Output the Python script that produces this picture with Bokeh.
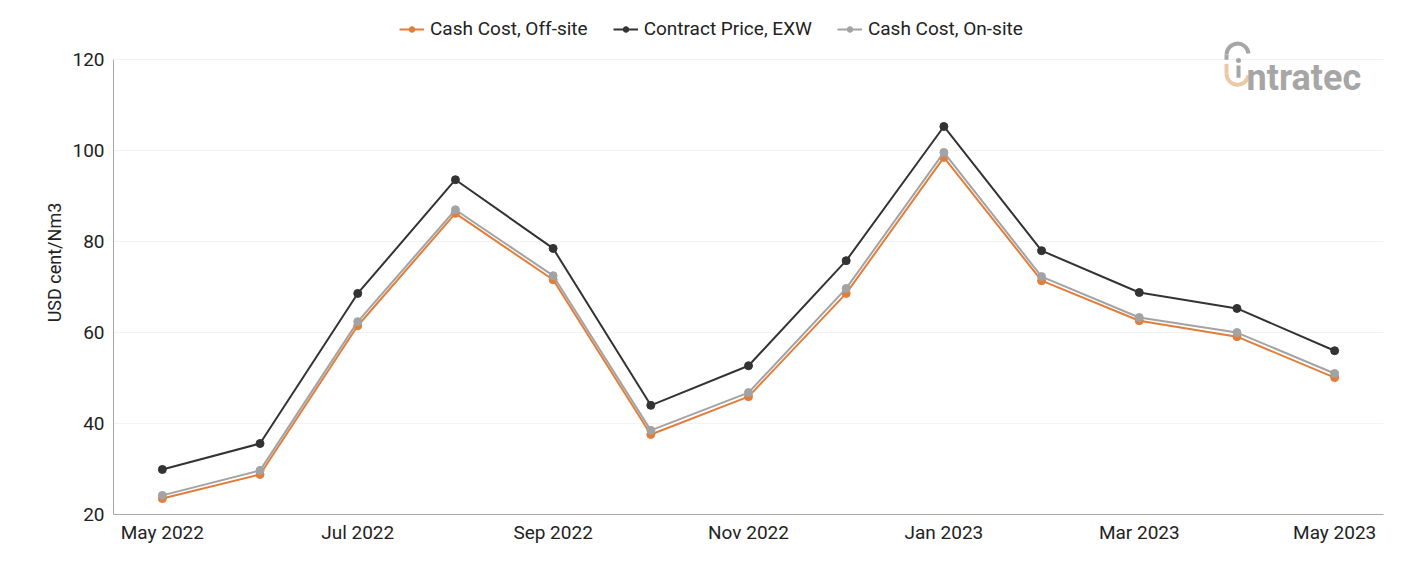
from bokeh.plotting import figure
from bokeh.models import (Range1d, FixedTicker, Legend, LegendItem, Label,
                          CustomJSTickFormatter)
from bokeh.embed import file_html
from bokeh.resources import INLINE

months = ["May 2022", "Jun 2022", "Jul 2022", "Aug 2022", "Sep 2022", "Oct 2022",
          "Nov 2022", "Dec 2022", "Jan 2023", "Feb 2023", "Mar 2023", "Apr 2023",
          "May 2023"]
cash_cost_offsite = [23.5, 28.8, 61.5, 86.2, 71.6, 37.6, 45.9, 68.6, 98.5, 71.4, 62.6, 59.1, 50.1]
contract_price_exw = [29.9, 35.6, 68.6, 93.6, 78.5, 44.0, 52.7, 75.8, 105.3, 78.0, 68.8, 65.3, 56.0]
cash_cost_onsite = [24.2, 29.7, 62.4, 87.0, 72.5, 38.5, 46.8, 69.7, 99.6, 72.3, 63.3, 60.0, 51.0]
y_ticks = [20, 40, 60, 80, 100, 120]

FONT = "Roboto"
x = list(range(len(months)))

# the frame reaches above the 120 line so the legend and logo share it
p = figure(width=1401, height=561, output_backend="svg", toolbar_location=None,
           x_range=Range1d(-0.5, len(months) - 0.5), y_range=Range1d(20, 130.8))
p.min_border_left = 113
p.min_border_right = 18
p.min_border_bottom = 47
p.min_border_top = 10
p.outline_line_color = None
p.background_fill_color = "white"
p.border_fill_color = "white"

# axes
p.xaxis.ticker = FixedTicker(ticks=x[::2])
p.xaxis.formatter = CustomJSTickFormatter(args=dict(labels=months),
                                          code="return labels[Math.round(tick)];")
p.yaxis.ticker = FixedTicker(ticks=y_ticks)
p.yaxis.bounds = (20, 120)
for ax in (p.xaxis, p.yaxis):
    ax.axis_line_color = "#a8a8a8"
    ax.axis_line_width = 1
    ax.major_tick_line_color = None
    ax.minor_tick_line_color = None
    ax.major_label_text_font = FONT
    ax.major_label_text_font_size = "19px"
    ax.major_label_text_color = "#222222"
p.xaxis.major_label_standoff = 0
p.yaxis.major_label_standoff = 3
p.yaxis.axis_label = "USD cent/Nm3"
p.yaxis.axis_label_text_font = FONT
p.yaxis.axis_label_text_font_size = "18px"
p.yaxis.axis_label_text_font_style = "normal"
p.yaxis.axis_label_text_color = "#222222"
p.yaxis.axis_label_standoff = 4

p.xgrid.grid_line_color = None
p.ygrid.grid_line_color = "#f3f3f3"
p.ygrid.ticker = FixedTicker(ticks=y_ticks)

series = [
    ("Cash Cost, Off-site", cash_cost_offsite, "#e27d3a"),
    ("Contract Price, EXW", contract_price_exw, "#333333"),
    ("Cash Cost, On-site", cash_cost_onsite, "#a3a3a3"),
]
items = []
for name, vals, color in series:
    ln = p.line(x, vals, line_color=color, line_width=2)
    mk = p.scatter(x, vals, size=8, fill_color=color, line_color=color)
    items.append(LegendItem(label=name, renderers=[ln, mk]))

legend = Legend(items=items, orientation="horizontal", location=(286, 474),
                label_text_font=FONT, label_text_font_size="19px",
                label_text_color="#222222", glyph_width=25, glyph_height=14,
                spacing=25, label_standoff=6, padding=4, margin=0,
                border_line_color=None, background_fill_alpha=0)
p.add_layout(legend, "center")

# company logo in the top-right corner
GRAY, BEIGE = "#a6a6a6", "#ecc9a6"
p.arc(x=[11.006], y=[121.1], radius=11, radius_units="screen",
      start_angle=0.1, end_angle=3.14159, line_color=GRAY, line_width=4)
p.segment(x0=[10.893], y0=[121.1], x1=[10.893], y1=[120.0], line_color=GRAY, line_width=4)
p.segment(x0=[10.893], y0=[119.1], x1=[10.893], y1=[116.9], line_color=BEIGE, line_width=4)
p.arc(x=[11.006], y=[116.9], radius=11, radius_units="screen",
      start_angle=3.14159, end_angle=6.15, line_color=BEIGE, line_width=4)
p.scatter(x=[11.016], y=[119.8], size=5, fill_color=GRAY, line_color=None)
p.segment(x0=[11.016], y0=[118.7], x1=[11.016], y1=[116.0], line_color=GRAY, line_width=4)
p.add_layout(Label(x=11.098, y=116.04, text="ntratec", text_font=FONT,
                   text_font_size="36px", text_font_style="bold",
                   text_color=GRAY, text_baseline="alphabetic"))

open("out.html", "w").write(file_html(p, INLINE))
